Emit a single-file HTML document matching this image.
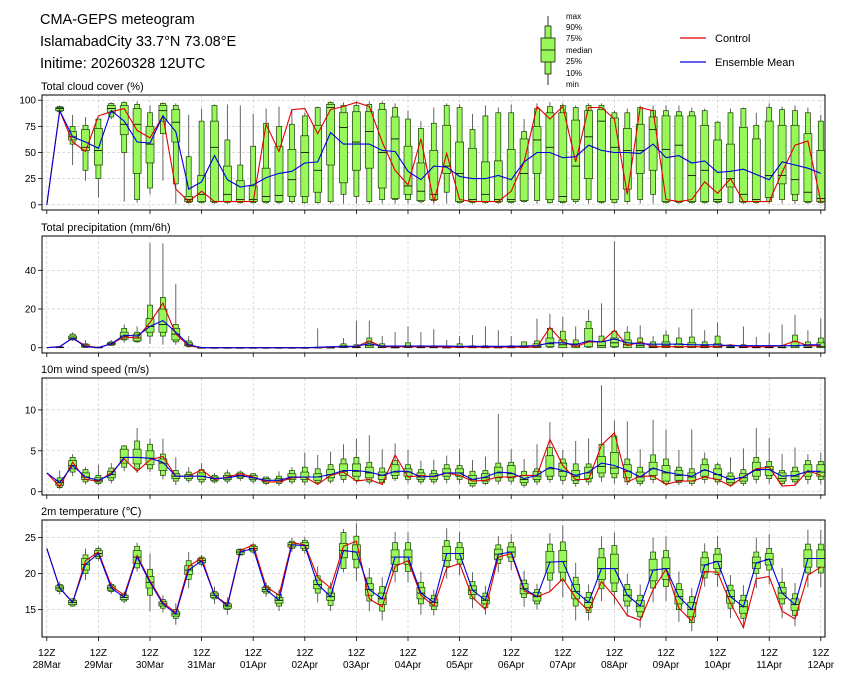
<!DOCTYPE html>
<html><head><meta charset="utf-8">
<style>
html,body{margin:0;padding:0;background:#fff;}
svg{display:block;font-family:"Liberation Sans","DejaVu Sans",sans-serif;}
</style></head>
<body>
<svg id="chart" width="845" height="681" viewBox="0 0 845 681" xmlns="http://www.w3.org/2000/svg">
<rect x="0" y="0" width="845" height="681" fill="#fff"/>
<g font-size="14.5" fill="#000">
<text x="40" y="24">CMA-GEPS meteogram</text>
<text x="40" y="46">IslamabadCity 33.7°N 73.08°E</text>
<text x="40" y="68">Initime: 20260328 12UTC</text>
</g>
<g>
<line x1="548" y1="16" x2="548" y2="85" stroke="#333" stroke-width="1"/>
<rect x="545" y="26" width="6" height="48" fill="#98f85a" stroke="#000" stroke-width="0.7"/>
<rect x="541" y="38" width="14" height="24" fill="#98f85a" stroke="#000" stroke-width="0.7"/>
<line x1="541" y1="50" x2="555" y2="50" stroke="#000" stroke-width="0.8"/>
<g font-size="8" fill="#000">
<text x="566" y="19">max</text>
<text x="566" y="30">90%</text>
<text x="566" y="41">75%</text>
<text x="566" y="53">median</text>
<text x="566" y="64">25%</text>
<text x="566" y="76">10%</text>
<text x="566" y="87">min</text>
</g>
</g>
<g font-size="11">
<line x1="680" y1="38" x2="706" y2="38" stroke="#e00000" stroke-width="1.2"/>
<text x="715" y="42">Control</text>
<line x1="680" y1="62" x2="706" y2="62" stroke="#0000dd" stroke-width="1.2"/>
<text x="715" y="66">Ensemble Mean</text>
</g>
<g id="plots"></g>
</svg>
<script>
// ---- time axis ----
const dayLabels = ["28Mar","29Mar","30Mar","31Mar","01Apr","02Apr","03Apr","04Apr","05Apr","06Apr","07Apr","08Apr","09Apr","10Apr","11Apr","12Apr"];
const stepsPerDay = 4;
const nSteps = 61;

// ---- cloud cover (%) ----
const cloudCtrl = [0,90,60,51,85,89,92,71,64,85,15, 3,13,3,3,3,3,77,51,91,92, 68,91,94,98,94,60,33,19,63,3, 49,5,3,3,3,13,41,94,82,94, 41,93,93,82,10,93,90,5,3,5, 22,11,25,3,3,3,31,57,61,3];
const cloudMean = [0,90,65,60,54,90,80,60,59,85,70, 15,22,47,24,17,19,26,30,32,40, 41,69,58,58,58,52,51,32,24,37, 36,27,25,25,28,24,41,50,50,45, 46,57,52,50,50,49,58,45,47,40, 42,31,32,34,29,24,41,38,35,30];
const cloudMin = [null,88,38,23,7,82,3,2,10,23,1, 1,1,1,1,1,1,1,1,1,1, 1,1,1,1,1,1,1,1,1,1, 1,1,1,1,1,1,2,1,1,1, 1,1,1,1,1,1,1,1,1,1, 1,1,1,1,1,1,1,1,1,1];
const cloudQ10 = [null,89,58,33,25,84,50,5,16,68,20, 2,2,2,2,2,2,2,2,3,2, 2,3,10,8,3,5,5,5,3,4, 12,2,2,2,2,2,3,4,2,2, 3,5,2,2,3,5,10,2,2,2, 2,2,2,2,2,3,5,4,2,2];
const cloudQ25 = [null,90,62,52,38,88,67,30,40,80,60, 3,3,3,3,3,3,3,3,8,8, 12,38,21,33,35,16,6,10,4,5, 30,3,3,3,3,3,4,30,5,3, 5,25,3,5,15,30,33,3,3,3, 3,3,17,3,3,7,20,10,3,3];
const cloudMed = [null,92,65,55,52,92,77,77,58,90,79, 5,10,55,10,5,5,8,9,24,50, 33,93,74,60,70,50,63,18,13,10, 37,30,5,10,5,5,30,62,55,8, 37,65,80,55,52,52,72,53,57,28, 33,5,25,10,5,28,28,24,12,6];
const cloudQ75 = [null,93,70,72,73,95,95,92,75,95,91, 8,28,80,37,23,18,35,56,53,66, 76,96,88,89,89,91,84,56,40,52, 76,60,54,41,42,53,63,75,88,88, 81,90,91,83,73,77,84,85,85,85, 76,62,58,74,63,80,76,76,68,52];
const cloudQ90 = [null,94,75,76,82,97,98,96,88,97,95, 46,80,95,62,38,56,78,75,77,85, 93,98,95,95,96,97,93,82,73,78, 95,93,72,85,88,88,70,92,94,95, 93,95,95,88,88,93,90,90,89,89, 90,79,88,92,76,93,91,90,88,80];
const cloudMax = [null,95,86,84,82,98,99,99,95,98,97, 86,92,96,96,95,87,92,94,91,88, 94,99,98,99,99,99,97,90,80,93, 97,96,87,95,93,96,82,97,98,97, 95,97,97,90,92,95,95,95,95,93, 92,80,92,93,88,97,94,95,93,86];
const cloudTicks = [0,25,50,75,100];

// ---- precipitation (mm/6h) ----
const precCtrl = [0,0.5,5,1,0,2,5.5,5,13,23,7, 1,0,0,0,0,0,0,0,0,0, 0,0.3,0.5,0.5,3.5,0.5,0.5,0.5,0.5,0.5, 0.3,0.3,0.3,0.3,0.3,0.3,0.3,0.3,10.5,3, 0.5,3,3,9,1,3,0.5,0.5,0.5,0.5, 0.5,0.5,1.5,0.5,0.5,0.5,1,3.5,1,1];
const precMean = [0,0.5,5,0.5,0,2,6.5,6,11,14,8, 1.5,0,0,0,0,0,0,0,0,0, 0.2,0.5,0.5,0.8,2,0.8,0.8,0.8,0.8,0.8, 0.8,0.7,0.7,0.7,0.7,0.7,0.8,1,2.5,2.5, 1.5,3.5,3,4.5,2.5,2,1.8,1.8,1.8,1.5, 1.5,1.5,1,1,1,1,1,1,1.5,1.5];
const precMin = [null,0,3.5,0,0,1,2.5,2.5,2,1.5,1.5, 0.3,0,0,0,0,0,0,0,0,0, 0,0,0,0,0,0,0,0,0,0, 0,0,0,0,0,0,0,0,0,0, 0,0,0,0,0,0,0,0,0,0, 0,0,0,0,0,0,0,0,0,0];
const precQ10 = [null,0,4,0.1,0,1.2,4,3,6,6,3, 0.5,0,0,0,0,0,0,0,0,0, 0,0,0,0,0,0,0,0,0,0, 0,0,0,0,0,0,0,0,0.2,0, 0,0.2,0,0.2,0,0,0,0,0,0, 0,0,0,0,0,0,0,0,0,0];
const precQ25 = [null,0.1,4.5,0.3,0,1.5,4.5,3.5,8,8,4, 1,0,0,0,0,0,0,0,0,0, 0,0,0,0,0,0,0,0,0,0, 0,0,0,0,0,0,0,0,0.5,0, 0,0.5,0,0.5,0,0,0,0,0,0, 0,0,0,0,0,0,0,0,0,0];
const precMed = [null,0.2,5,0.8,0.1,2,6,5,11,12,7, 1.5,0,0,0,0,0,0,0,0,0, 0,0,0.3,0.1,1,0.3,0,0.3,0,0, 0,0.1,0,0,0,0,0.2,0.5,2,1.5, 0.8,3,1,2.5,1.5,1,0.3,1,0.5,0.5, 0.3,0.5,0.1,0.1,0,0,0,0.8,0.3,0.5];
const precQ75 = [null,0.3,6,1.5,0.2,2.5,8,7,15,20,10, 2.5,0,0,0,0,0,0,0,0,0, 0.1,0.1,1,0.5,2.5,1,0.2,1,0.3,0.3, 0.2,0.5,0.3,0.3,0.2,0.3,1,2,5,4, 2,10,3,5,4,2.5,1,3,2,2.5, 1,2,0.5,0.5,0.3,0.3,0.3,3,1,2.5];
const precQ90 = [null,0.4,7,2,0.3,3,10,8,22,26,12, 3.5,0.1,0,0,0,0,0,0,0,0, 0.3,0.2,2,1.5,5,2,0.5,2.5,1,1, 0.5,2,1,1,0.5,1,3,3.5,10,8.5, 4,13.5,6,8.5,8,5,3,6.5,5,5.5, 3,6,1,1.5,1,1,1,6.5,3,5];
const precMax = [null,0.5,8,4,0.5,4,12,11,54,54,33, 6,0.5,0.2,0.1,0.1,0.1,0.1,0.2,0.3,0.5, 10,0.5,5,14,14,6,8,11,8,9.5, 4,6,6.5,11,9,6,3,15,17.5,16, 11,19.5,23,55,11,11.5,6,9,10.5,20, 9,13,2,11,5.5,7.5,12,17,9,15];
const precTicks = [0,20,40];

// ---- 10m wind speed (m/s) ----
const windCtrl = [2.3,0.6,3.6,1.5,1.3,2.3,4.0,2.5,3.9,4.3,1.9, 1.9,2.7,1.5,1.8,2.2,1.8,1.2,1.2,1.7,1.8, 0.9,2.0,2.4,1.3,1.5,0.9,4.5,1.8,2.0,1.8, 2.3,2.0,1.3,1.4,1.8,1.8,2.0,2.0,6.4,3.2, 1.5,1.5,5.7,7.2,1.2,1.9,1.9,0.9,1.3,1.3, 1.8,1.5,0.7,1.8,2.8,3.0,0.7,0.8,2.6,2.0];
const windMean = [2.3,1.1,3.2,1.8,1.4,2.1,4.2,4.2,4.1,3.6,1.9, 1.9,1.9,1.6,1.7,2.0,1.7,1.4,1.4,1.8,1.8, 1.8,2.1,2.6,2.6,2.4,2.0,2.5,2.5,1.8,1.9, 2.3,2.3,1.5,1.8,2.4,2.3,1.6,2.0,3.0,2.6, 2.0,2.4,3.5,3.2,2.6,1.8,2.9,2.4,2.1,1.9, 2.7,2.1,1.5,1.8,2.7,2.7,1.9,2.0,2.5,2.5];
const windMin = [null,0.3,1.9,0.9,0.8,1.0,2.5,2.3,2.4,1.5,0.8, 1.1,0.9,1.0,1.0,1.3,1.0,0.8,0.7,0.9,0.8, 0.8,1.0,1.1,1.0,0.9,0.8,1.3,1.0,0.9,0.9, 1.0,1.0,0.5,0.8,0.9,0.9,0.5,0.8,1.1,0.9, 0.6,0.8,1.2,1.0,0.8,0.7,1.0,0.7,0.8,0.7, 1.0,0.8,0.6,0.7,1.0,1.0,0.7,0.8,0.9,0.9];
const windQ10 = [null,0.5,2.4,1.2,1.0,1.4,3.0,2.8,2.8,2.0,1.3, 1.4,1.2,1.2,1.3,1.6,1.3,1.0,1.0,1.2,1.2, 1.1,1.3,1.5,1.4,1.2,1.1,1.6,1.5,1.2,1.2, 1.5,1.5,0.7,1.0,1.3,1.3,0.8,1.2,1.5,1.4, 1.0,1.2,1.8,1.7,1.2,1.0,1.5,1.0,1.1,1.0, 1.5,1.2,0.8,1.0,1.5,1.6,1.0,1.2,1.5,1.5];
const windQ25 = [null,0.8,2.8,1.5,1.2,1.7,3.5,3.4,3.3,2.6,1.6, 1.6,1.5,1.4,1.5,1.8,1.5,1.2,1.2,1.5,1.5, 1.4,1.7,2.0,1.9,1.7,1.5,2.0,1.9,1.5,1.5, 1.9,1.9,1.0,1.3,1.7,1.7,1.1,1.5,1.9,1.9, 1.4,1.6,2.3,2.2,1.7,1.3,2.0,1.3,1.4,1.3, 1.9,1.5,1.1,1.3,1.9,2.0,1.3,1.5,1.9,1.9];
const windMed = [null,1.1,3.2,1.8,1.4,2.1,4.2,4.2,4.1,3.5,1.9, 1.9,1.9,1.6,1.7,2.0,1.7,1.4,1.4,1.8,1.8, 1.8,2.1,2.5,2.5,2.3,2.0,2.4,2.4,1.8,1.9, 2.3,2.3,1.5,1.7,2.3,2.2,1.5,1.9,2.8,2.5, 1.9,2.3,3.1,2.9,2.5,1.8,2.8,2.3,2.0,1.8, 2.6,2.1,1.5,1.7,2.6,2.7,1.6,1.9,2.4,2.4];
const windQ75 = [null,1.4,3.8,2.3,1.7,2.5,5.2,5.2,5.0,4.0,2.2, 2.1,2.3,1.8,2.0,2.2,2.0,1.6,1.6,2.2,2.4, 2.2,2.7,3.4,3.4,3.0,2.4,3.3,2.8,2.3,2.2, 2.8,2.8,2.0,2.2,3.0,3.2,2.0,2.5,4.4,3.5, 2.6,3.0,4.3,4.8,3.3,2.4,3.6,3.2,2.6,2.3, 3.3,2.8,1.9,2.2,3.6,3.1,2.3,2.5,3.3,3.3];
const windQ90 = [null,1.7,4.2,2.7,2.0,2.9,5.6,6.2,5.8,4.6,2.6, 2.4,2.7,2.0,2.3,2.4,2.2,1.8,1.9,2.6,3.0, 2.8,3.3,4.0,4.2,3.6,2.9,3.8,3.3,2.7,2.6, 3.3,3.2,2.5,2.6,3.5,3.6,2.5,2.8,5.4,4.0, 3.4,3.4,5.8,6.8,4.0,3.0,4.5,4.0,3.0,2.8, 4.0,3.3,2.3,2.7,4.2,3.7,2.6,3.0,3.8,3.7];
const windMax = [null,2.6,4.6,3,3.3,3.5,5.7,7.8,6.5,6.5,4.2, 3,3.5,2.3,2.7,2.6,2.3,1.8,2.5,3.0,4.8, 4.5,4.9,5.8,6.5,6.9,5.2,5.9,5.1,3.8,3.9, 4.4,5.2,3.9,4.3,9.5,5.2,4.0,5.8,8.5,5.1, 6.2,6.5,13,8.7,8.6,5.2,8.8,7.6,5.1,7.6, 4.8,3.6,4.2,5.3,7.8,6.6,4.6,5.4,4.6,4.8];
const windTicks = [0,5,10];

// ---- 2m temperature (°C) ----
const tempCtrl = [23.5,18,16,21.8,23,18.3,17,22.5,19,16,14.6, 21,22.2,17,15.7,23.2,24,18.2,17,24.3,24, 19.5,18,23.8,24.5,16.5,15.4,21,21.8,17,15.5, 20.8,21.4,16.7,15,22.3,22.8,17.6,16.8,17.5,19.3, 16.6,14.8,18.9,16.8,14.2,13.5,17.8,20.6,15.2,13.4, 20.3,20.2,15.9,12.5,19.3,19.6,14.8,13.7,19.8,20.9];
const tempMean = [23.5,18,16,21.3,22.8,18,16.7,22.3,18.8,15.8,14.4, 20.5,21.8,17,15.5,23,23.5,17.8,16.3,24,23.9, 18.5,16.8,23.2,23,17.8,16.5,22.3,22.3,17.3,16, 22.8,22.8,17.7,16.3,22.7,23,17.9,16.8,21.6,21.7, 17.5,16,20.7,20.7,17,15.5,20.5,20.7,16.8,15, 21.2,21.7,16.8,15.4,21.5,22,17.3,15.7,22.1,22.1];
const tempMed = [null,18,16,21.3,22.8,18,16.7,22.3,18.8,15.8,14.4, 20.5,21.8,17,15.5,23,23.5,17.8,16.3,24,23.9, 18.5,16.8,23.2,23,17.8,16.5,22.3,22.3,17.3,16, 22.8,22.8,17.7,16.3,22.7,23,17.9,16.8,21.6,21.7, 17.5,16,20.7,20.7,17,15.5,20.5,20.7,16.8,15, 21.2,21.7,16.8,15.4,21.5,22,17.3,15.7,22.1,22.1];
const tempHalfIqr = [null,0.3,0.3,0.8,0.4,0.3,0.3,0.9,0.8,0.3,0.3, 0.6,0.3,0.3,0.3,0.3,0.3,0.3,0.4,0.3,0.4, 0.6,0.5,1.0,1.0,0.8,0.8,1.0,1.0,0.8,0.5, 1.0,0.8,0.6,0.5,0.7,0.7,0.7,0.6,1.5,1.5, 1.0,0.7,1.5,2.0,0.8,0.8,1.5,1.5,1.0,1.0, 1.0,1.0,0.9,0.9,0.8,0.8,0.8,0.8,1.2,1.2];
const tempHalf80 = [null,0.5,0.5,1.3,0.7,0.5,0.5,1.5,1.8,0.6,0.6, 1.3,0.5,0.5,0.5,0.4,0.5,0.5,0.8,0.5,0.7, 1.2,1.2,2.5,2.2,1.6,1.7,2.0,2.0,1.5,1.0, 1.8,1.5,1.2,1.0,1.3,1.3,1.2,1.0,2.5,2.7, 2.0,1.4,2.8,3.2,1.5,1.5,2.5,2.5,1.8,1.8, 1.8,1.8,1.6,1.6,1.5,1.5,1.5,1.5,2.0,2.0];
const tempHalfRange = [null,0.9,0.6,2.2,1.0,0.8,0.8,2.0,4.0,1.2,1.5, 2.5,0.8,1.2,1.2,0.5,0.8,1.0,1.5,1.0,1.2, 2.5,2.0,3.0,4.0,3.0,3.0,3.5,3.5,3.0,1.8, 3.5,3.0,2.5,2.0,2.5,2.5,2.5,1.8,4.0,5.0, 4.0,2.5,4.5,5.0,3.0,3.0,4.5,4.5,3.5,3.0, 3.0,3.5,3.0,3.0,3.5,3.5,3.5,3.0,4.0,4.0];
const tempTicks = [15,20,25];

const tempMin = tempMed.map((m,i)=> m==null?null: m - tempHalfRange[i]);
const tempQ10 = tempMed.map((m,i)=> m==null?null: m - tempHalf80[i]);
const tempQ25 = tempMed.map((m,i)=> m==null?null: m - tempHalfIqr[i]);
const tempQ75 = tempMed.map((m,i)=> m==null?null: m + tempHalfIqr[i]);
const tempQ90 = tempMed.map((m,i)=> m==null?null: m + tempHalf80[i]);
const tempMax = tempMed.map((m,i)=> m==null?null: m + tempHalfRange[i]);

const NS = "http://www.w3.org/2000/svg";
const plots = document.getElementById("plots");
const X0 = 46.8, DX = 12.9, LEFT = 42, RIGHT = 825;
function xAt(t){ return X0 + t*DX; }
function mk(tag, attrs, parent){
  const e = document.createElementNS(NS, tag);
  for (const k in attrs) e.setAttribute(k, attrs[k]);
  parent.appendChild(e);
  return e;
}

const panels = [
  {key:"cloud", title:"Total cloud cover (%)", top:95, bottom:210, ymin:-5, ymax:105, ticks:cloudTicks,
   ctrl:cloudCtrl, mean:cloudMean, bx:[cloudMin,cloudQ10,cloudQ25,cloudMed,cloudQ75,cloudQ90,cloudMax]},
  {key:"precip", title:"Total precipitation (mm/6h)", top:236, bottom:353, ymin:-2.75, ymax:57.75, ticks:precTicks,
   ctrl:precCtrl, mean:precMean, bx:[precMin,precQ10,precQ25,precMed,precQ75,precQ90,precMax]},
  {key:"wind", title:"10m wind speed (m/s)", top:378, bottom:495, ymin:-0.4, ymax:13.9, ticks:windTicks,
   ctrl:windCtrl, mean:windMean, bx:[windMin,windQ10,windQ25,windMed,windQ75,windQ90,windMax]},
  {key:"temp", title:"2m temperature (\u2103)", top:520, bottom:637, ymin:11.2, ymax:27.45, ticks:tempTicks,
   ctrl:tempCtrl, mean:tempMean, bx:[tempMin,tempQ10,tempQ25,tempMed,tempQ75,tempQ90,tempMax]}
];

panels.forEach((p, pi) => {
  const g = mk("g", {}, plots);
  
  
  const yAt = v => p.bottom - (v - p.ymin) / (p.ymax - p.ymin) * (p.bottom - p.top);

  const ttl = mk("text", {x:41, y:p.top-5, "font-size":11, fill:"#000"}, g);
  ttl.textContent = p.title;
  
  

  // grid vertical
  for (let d = 0; d < dayLabels.length; d++) {
    const xx = xAt(d*stepsPerDay);
    const gl = mk("line", {x1:xx, x2:xx, y1:p.top, y2:p.bottom, stroke:"#cfcfcf", "stroke-width":0.7, "stroke-dasharray":"3,2"}, g);
    
    
    const tk = mk("line", {x1:xx, x2:xx, y1:p.bottom, y2:p.bottom+4, stroke:"#000", "stroke-width":0.8}, g);
    
    
  }
  // grid horizontal + y ticks
  p.ticks.forEach(v => {
    const yy = yAt(v);
    const gl = mk("line", {x1:LEFT, x2:RIGHT, y1:yy, y2:yy, stroke:"#cfcfcf", "stroke-width":0.7, "stroke-dasharray":"3,2"}, g);
    
    
    const tk = mk("line", {x1:LEFT-4, x2:LEFT, y1:yy, y2:yy, stroke:"#000", "stroke-width":0.8}, g);
    
    
    const lb = mk("text", {x:LEFT-6, y:yy+3.5, "font-size":10, "text-anchor":"end", fill:"#000"}, g);
    lb.textContent = String(v);
    
    
  });

  // boxes
  const [mn,q10,q25,md,q75,q90,mx] = p.bx;
  for (let t = 1; t < nSteps; t++) {
    if (md[t] == null) continue;
    const xx = xAt(t);
    const bg = mk("g", {}, g);
    
    
    const w = mk("line", {x1:xx, x2:xx, y1:yAt(mx[t]), y2:yAt(mn[t]), stroke:"#555", "stroke-width":0.9}, bg);
    
    
    const r1 = mk("rect", {x:xx-2.5, y:yAt(q90[t]), width:5, height:Math.max(0.6, yAt(q10[t])-yAt(q90[t])), fill:"#98f85a", stroke:"#1a3a0a", "stroke-width":0.7}, bg);
    
    
    const r2 = mk("rect", {x:xx-4, y:yAt(q75[t]), width:8, height:Math.max(0.6, yAt(q25[t])-yAt(q75[t])), fill:"#98f85a", stroke:"#1a3a0a", "stroke-width":0.7}, bg);
    
    
    const ml = mk("line", {x1:xx-4, x2:xx+4, y1:yAt(md[t]), y2:yAt(md[t]), stroke:"#000", "stroke-width":0.8}, bg);
    
    
  }

  // control & mean lines
  const pts = arr => arr.map((v,t)=> xAt(t).toFixed(1)+","+yAt(v).toFixed(1)).join(" ");
  const cl = mk("polyline", {points:pts(p.ctrl), fill:"none", stroke:"#e00000", "stroke-width":1.1}, g);
  
  
  const ml = mk("polyline", {points:pts(p.mean), fill:"none", stroke:"#0000dd", "stroke-width":1.1}, g);
  
  

  // frame
  const fr = mk("rect", {x:LEFT, y:p.top, width:RIGHT-LEFT, height:p.bottom-p.top, fill:"none", stroke:"#000", "stroke-width":1}, g);
  
  

  if (pi === panels.length-1) {
    for (let d = 0; d < dayLabels.length; d++) {
      const xx = xAt(d*stepsPerDay);
      const t1 = mk("text", {x:xx, y:p.bottom+19, "font-size":10, "text-anchor":"middle", fill:"#000"}, g);
      t1.textContent = "12Z";
      
      
      const t2 = mk("text", {x:xx, y:p.bottom+31, "font-size":10, "text-anchor":"middle", fill:"#000"}, g);
      t2.textContent = dayLabels[d];
      
      
    }
  }
});
</script>
</body></html>
